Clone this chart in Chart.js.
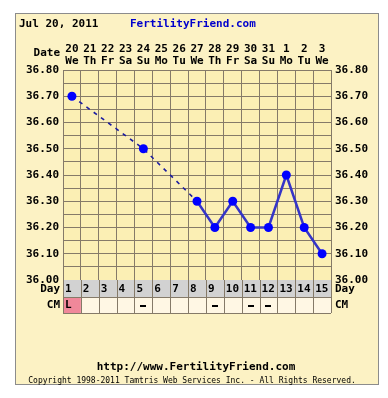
<!DOCTYPE html>
<html>
<head>
<meta charset="utf-8">
<script src="https://cdn.jsdelivr.net/npm/chart.js@4"></script>
<style>
  html, body { margin: 0; padding: 0; background: #fff; }
  canvas { display: block; }
</style>
</head>
<body>
<canvas id="bbt" width="388" height="398"></canvas>
<script>
// chart data
const cycleDays = [1, 2, 3, 4, 5, 6, 7, 8, 9, 10, 11, 12, 13, 14, 15];
const dates = ['20', '21', '22', '23', '24', '25', '26', '27', '28', '29', '30', '31', '1', '2', '3'];
const weekdays = ['We', 'Th', 'Fr', 'Sa', 'Su', 'Mo', 'Tu', 'We', 'Th', 'Fr', 'Sa', 'Su', 'Mo', 'Tu', 'We'];
const temps = [36.70, null, null, null, 36.50, null, null, 36.30, 36.20, 36.30, 36.20, 36.20, 36.40, 36.20, 36.10];
const cervicalMucus = ['L', '', '', '', '-', '', '', '', '-', '', '-', '-', '', '', ''];

const FONT = 'bold 11px "DejaVu Sans Mono"';
const GRID = '#857a68';

const chartBox = {
    id: 'chartBox',
    beforeDraw(chart) {
        const c = chart.ctx;
        const a = chart.chartArea;
        c.save();
        c.fillStyle = '#ffffff';
        c.fillRect(0, 0, chart.width, chart.height);
        c.fillStyle = '#fcf2c4';
        c.fillRect(15.5, 13.5, 363, 371);
        c.strokeStyle = '#8c8c8c';
        c.lineWidth = 1;
        c.strokeRect(15.5, 13.5, 363, 371);
        c.fillStyle = '#fbefb4';
        c.fillRect(a.left, a.top, a.right - a.left, a.bottom - a.top);
        c.restore();
    },
    afterDraw(chart) {
        const c = chart.ctx;
        const a = chart.chartArea;
        const x = chart.scales.x;
        const colW = (a.right - a.left) / cycleDays.length;
        c.save();
        c.font = FONT;
        c.textBaseline = 'middle';
        c.fillStyle = '#000';
        c.textAlign = 'left';
        c.fillText('Jul 20, 2011', 19, 24);
        c.fillStyle = '#0000cc';
        c.fillText('FertilityFriend.com', 130, 24);
        c.fillStyle = '#000';
        c.textAlign = 'right';
        c.fillText('Date', 60, 53);

        // day / cm rows
        const dayTop = a.bottom, dayBot = a.bottom + 17, cmBot = a.bottom + 33;
        c.fillStyle = '#d2d2d2';
        c.fillRect(a.left, dayTop, a.right - a.left, dayBot - dayTop);
        c.fillStyle = '#fff7e4';
        c.fillRect(a.left, dayBot, a.right - a.left, cmBot - dayBot);
        cycleDays.forEach((d, i) => {
            const cx = x.getPixelForValue(i);
            const l = cx - colW / 2;
            if (cervicalMucus[i] === 'L') {
                c.fillStyle = '#f0889a';
                c.fillRect(l, dayBot, colW, cmBot - dayBot);
            }
            c.fillStyle = '#000';
            c.textAlign = 'left';
            c.fillText(String(d), l + 2, dayTop + 9);
            if (cervicalMucus[i] === 'L') {
                c.fillText('L', l + 2, dayBot + 8);
            } else if (cervicalMucus[i] === '-') {
                c.fillRect(Math.round(cx - 3), dayBot + 8, 6, 2);
            }
        });
        c.strokeStyle = GRID;
        c.lineWidth = 1;
        c.beginPath();
        for (let i = 0; i <= cycleDays.length; i++) {
            const px = Math.round(a.left + i * colW) + 0.5;
            c.moveTo(px, dayTop);
            c.lineTo(px, cmBot);
        }
        [dayBot, cmBot].forEach(y => {
            c.moveTo(a.left, Math.round(y) + 0.5);
            c.lineTo(a.right, Math.round(y) + 0.5);
        });
        c.stroke();

        c.fillStyle = '#000';
        c.textAlign = 'right';
        c.fillText('Day', 60, dayTop + 9);
        c.fillText('CM', 60, dayBot + 8);
        c.textAlign = 'left';
        c.fillText('Day', a.right + 4, dayTop + 9);
        c.fillText('CM', a.right + 4, dayBot + 8);

        // footer
        c.textAlign = 'center';
        c.fillText('http://www.FertilityFriend.com', 196, 367);
        c.font = '8px "DejaVu Sans Mono"';
        c.fillText('Copyright 1998-2011 Tamtris Web Services Inc. - All Rights Reserved.', 192, 381);
        c.restore();
    }
};

const tempTick = v => (Math.round(v * 100) % 10 === 0 ? v.toFixed(2) : '');
const skipped = ctx => ctx.p0.skip || ctx.p1.skip;

new Chart(document.getElementById('bbt').getContext('2d'), {
    type: 'line',
    data: {
        labels: dates.map((d, i) => [d, weekdays[i]]),
        datasets: [{
            data: temps,
            spanGaps: true,
            borderColor: '#3535c8',
            borderWidth: 2.5,
            pointRadius: 4.5,
            pointBackgroundColor: '#0000ff',
            pointBorderWidth: 0,
            segment: {
                borderDash: ctx => (skipped(ctx) ? [4, 5] : undefined),
                borderWidth: ctx => (skipped(ctx) ? 1.6 : 2.5),
                borderColor: ctx => (skipped(ctx) ? '#1c1ca0' : '#3535c8')
            }
        }]
    },
    options: {
        responsive: false,
        animation: false,
        devicePixelRatio: 1,
        layout: { padding: { left: 0, right: 0, top: 0, bottom: 118 } },
        plugins: { legend: { display: false }, tooltip: { enabled: false } },
        scales: {
            x: {
                position: 'top',
                offset: true,
                grid: { offset: true, color: GRID, drawTicks: false },
                border: { color: GRID },
                ticks: { color: '#000', font: { family: 'DejaVu Sans Mono', weight: 'bold', size: 11, lineHeight: 1.1 }, padding: 3, maxRotation: 0, autoSkip: false },
                afterFit: s => { s.height = 70; }
            },
            y: {
                position: 'left',
                min: 36.0,
                max: 36.8,
                grid: { color: GRID, drawTicks: false },
                border: { color: GRID },
                ticks: { stepSize: 0.05, autoSkip: false, callback: tempTick, color: '#000', font: { family: 'DejaVu Sans Mono', weight: 'bold', size: 11 }, padding: 4 },
                afterFit: s => { s.width = 63; }
            },
            y2: {
                position: 'right',
                min: 36.0,
                max: 36.8,
                grid: { drawOnChartArea: false, drawTicks: false },
                border: { color: GRID },
                ticks: { stepSize: 0.05, autoSkip: false, callback: tempTick, color: '#000', font: { family: 'DejaVu Sans Mono', weight: 'bold', size: 11 }, padding: 4 },
                afterFit: s => { s.width = 57; }
            }
        }
    },
    plugins: [chartBox]
});
</script>
</body>
</html>
